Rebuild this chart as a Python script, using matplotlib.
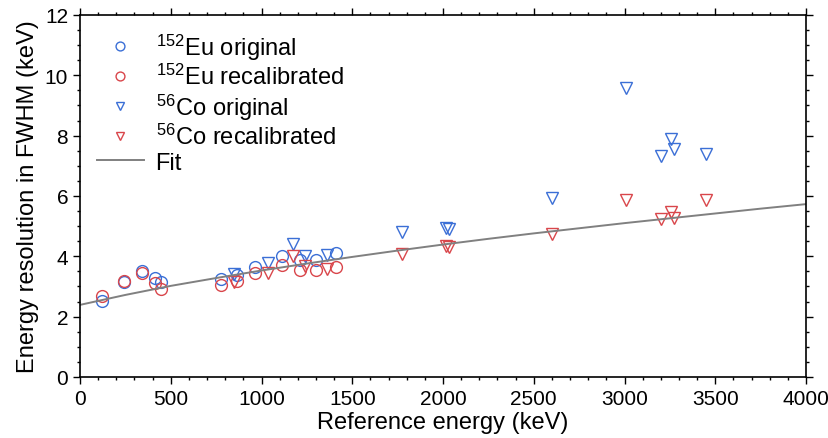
import numpy as np
import matplotlib
matplotlib.use("Agg")
import matplotlib.pyplot as plt
from matplotlib.ticker import MultipleLocator

plt.rcParams['font.family'] = ['Liberation Sans', 'DejaVu Sans']
plt.rcParams['mathtext.fontset'] = 'custom'
plt.rcParams['mathtext.rm'] = 'Liberation Sans'
plt.rcParams['mathtext.it'] = 'Liberation Sans:italic'
plt.rcParams['font.size'] = 17

# 152Eu lines
eu_E = [121.8, 244.7, 344.3, 411.1, 444.0, 778.9, 867.4, 964.1, 1112.1, 1212.9, 1299.1, 1408.0]
eu_orig = [2.53, 3.16, 3.52, 3.27, 3.14, 3.25, 3.38, 3.66, 4.00, 3.89, 3.87, 4.12]
eu_recal = [2.68, 3.17, 3.44, 3.11, 2.91, 3.04, 3.17, 3.44, 3.72, 3.56, 3.55, 3.64]

# 56Co lines
co_E = [846.8, 1037.8, 1175.1, 1238.3, 1360.2, 1771.4, 2015.2, 2034.8, 2598.5,
        3009.6, 3202.0, 3253.5, 3273.1, 3451.2]
co_orig = [3.40, 3.77, 4.41, 4.00, 4.05, 4.82, 4.94, 4.91, 5.93,
           9.57, 7.33, 7.89, 7.55, 7.38]
co_recal = [3.15, 3.44, 4.02, 3.69, 3.57, 4.08, 4.33, 4.30, 4.74,
            5.86, 5.23, 5.47, 5.28, 5.86]

# fit curve
fit_E = [0, 250, 500, 750, 1000, 1250, 1500, 1750, 2000, 2250, 2500, 2750,
         3000, 3250, 3500, 3750, 4000]
fit_y = [2.39, 2.72, 3.02, 3.28, 3.53, 3.76, 3.98, 4.19, 4.39, 4.58, 4.76,
         4.93, 5.10, 5.26, 5.42, 5.58, 5.73]

blue = '#3b6fd6'
red = '#d9464b'

fig = plt.figure(figsize=(8.29, 4.39), dpi=100)
ax = fig.add_axes([0.0965, 0.139, 0.8758, 0.8246])

ms = 8.5
ax.plot(eu_E, eu_orig, 'o', mfc='none', mec=blue, ms=ms, mew=1.0, label=r'$^{152}$Eu original')
ax.plot(eu_E, eu_recal, 'o', mfc='none', mec=red, ms=ms, mew=1.0, label=r'$^{152}$Eu recalibrated')
ax.plot(co_E, co_orig, 'v', mfc='none', mec=blue, ms=ms, mew=1.0, label=r'$^{56}$Co original')
ax.plot(co_E, co_recal, 'v', mfc='none', mec=red, ms=ms, mew=1.0, label=r'$^{56}$Co recalibrated')
ax.plot(fit_E, fit_y, '-', color='#808080', lw=1.4, label='Fit')

ax.set_xlim(0, 4000)
ax.set_ylim(0, 12)
ax.xaxis.set_major_locator(MultipleLocator(500))
ax.xaxis.set_minor_locator(MultipleLocator(100))
ax.yaxis.set_major_locator(MultipleLocator(2))
ax.yaxis.set_minor_locator(MultipleLocator(0.5))
ax.tick_params(which='both', direction='out', top=True, right=True, width=1.0,
               labelsize=15)
ax.tick_params(which='major', length=5)
ax.tick_params(which='minor', length=2.5)
for s in ax.spines.values():
    s.set_linewidth(1.2)

ax.set_xlabel('Reference energy (keV)', labelpad=2)
ax.set_ylabel('Energy resolution in FWHM (keV)', labelpad=4)

ax.legend(loc='upper left', frameon=False, markerscale=0.75, handlelength=2.0,
          labelspacing=0.1, borderaxespad=0.3, handletextpad=0.5)

fig.savefig('out.png', dpi=100)
